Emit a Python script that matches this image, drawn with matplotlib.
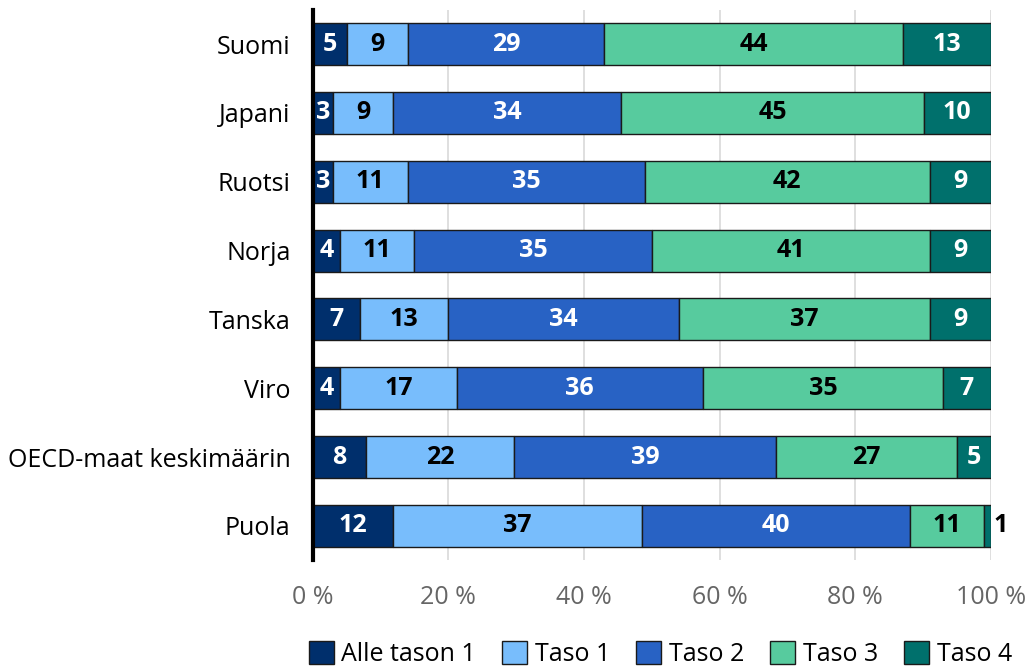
import numpy as np
import matplotlib
matplotlib.use("Agg")
import matplotlib.pyplot as plt

plt.rcParams['font.family'] = ['Open Sans', 'DejaVu Sans']

countries = ["Suomi", "Japani", "Ruotsi", "Norja", "Tanska", "Viro",
             "OECD-maat keskimäärin", "Puola"]
levels = ["Alle tason 1", "Taso 1", "Taso 2", "Taso 3", "Taso 4"]

alle1 = [5, 3, 3, 4, 7, 4, 8, 12]
taso1 = [9, 9, 11, 11, 13, 17, 22, 37]
taso2 = [29, 34, 35, 35, 34, 36, 39, 40]
taso3 = [44, 45, 42, 41, 37, 35, 27, 11]
taso4 = [13, 10, 9, 9, 9, 7, 5, 1]

colors = ["#002f6c", "#78bdfc", "#2862c4", "#57cb9e", "#00706c"]
text_colors = ["white", "black", "white", "black", "white"]

data = np.array([alle1, taso1, taso2, taso3, taso4], dtype=float)
shares = data / data.sum(axis=0) * 100

fig, ax = plt.subplots(figsize=(10.32, 6.66), dpi=100)
fig.subplots_adjust(left=0.303, right=0.96, top=0.9856, bottom=0.1586)

y = np.arange(len(countries))
left = np.zeros(len(countries))
for i, lev in enumerate(levels):
    ax.barh(y, shares[i], left=left, height=0.61, color=colors[i],
            edgecolor="#1a1a1a", linewidth=1, label=lev, zorder=3)
    for j in range(len(countries)):
        val = int(data[i, j])
        cx = left[j] + shares[i, j] / 2
        col = text_colors[i]
        if shares[i, j] < 2:
            cx = left[j] + shares[i, j] + 1.4
            col = "black"
        ax.text(cx, y[j], str(val), ha="center", va="center",
                fontsize=18, fontweight="bold", color=col, zorder=4)
    left += shares[i]

ax.set_ylim(len(countries) - 0.5, -0.5)
ax.set_xlim(0, 100)
ax.set_yticks(y)
ax.set_yticklabels(countries, fontsize=18)
ax.set_xticks([0, 20, 40, 60, 80, 100])
ax.set_xticklabels(["0 %", "20 %", "40 %", "60 %", "80 %", "100 %"],
                   fontsize=18, color="#666666")
ax.tick_params(axis="both", length=0)
ax.tick_params(axis="x", pad=18)
ax.tick_params(axis="y", pad=16)
ax.grid(axis="x", color="#d9d9d9", linewidth=1.2, zorder=0)
for s in ["top", "right", "bottom"]:
    ax.spines[s].set_visible(False)
ax.spines["left"].set_linewidth(3)
ax.spines["left"].set_color("black")
ax.spines["left"].set_zorder(5)

fig.legend(loc="center", bbox_to_anchor=(0.64, 0.018), ncol=5,
           frameon=False, fontsize=18, handlelength=1.0, handleheight=1.0,
           handletextpad=0.3, columnspacing=1.05, borderpad=0, borderaxespad=0)

plt.savefig("out.png", dpi=100)
